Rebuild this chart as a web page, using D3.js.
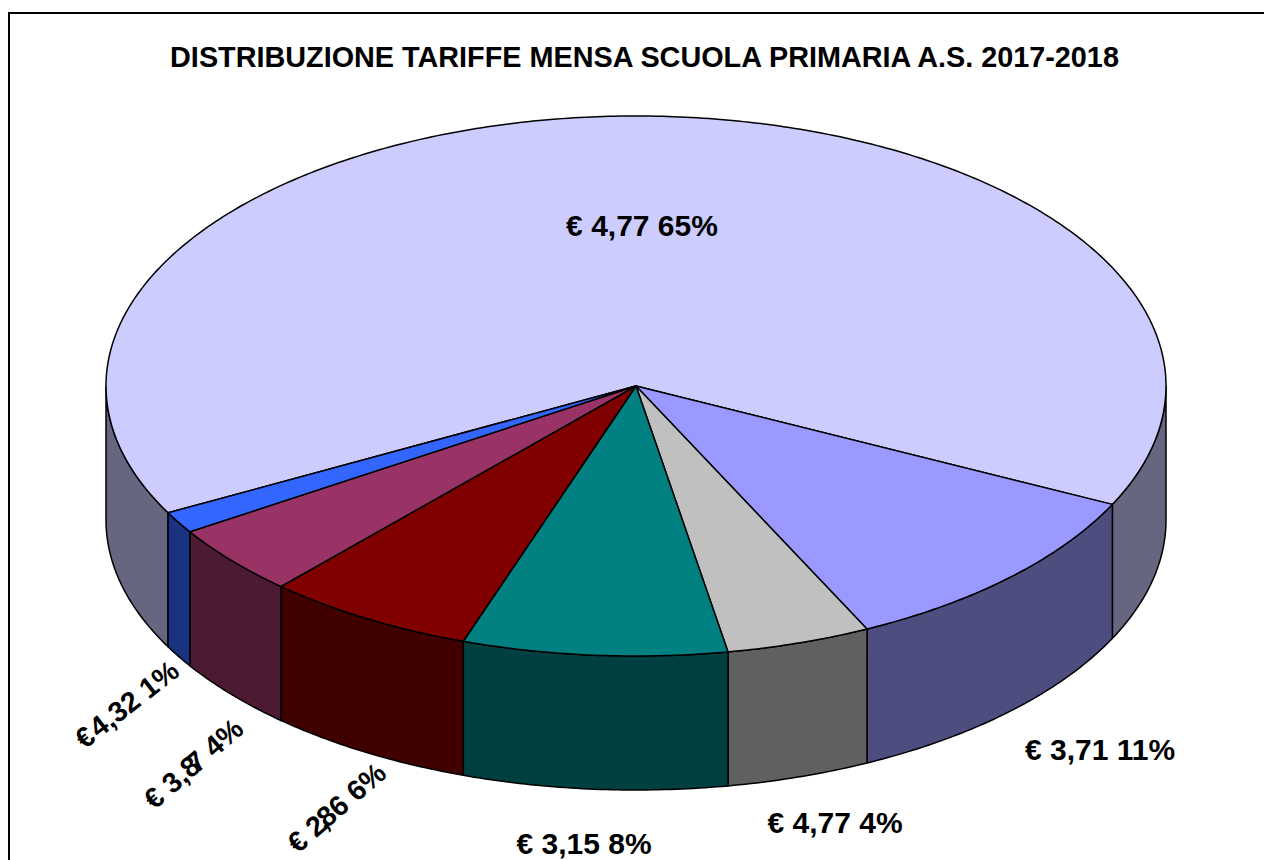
<!DOCTYPE html>
<html>
<head>
<meta charset="utf-8">
<script src="https://cdn.jsdelivr.net/npm/d3@7"></script>
<style>
  html, body { margin: 0; padding: 0; background: #fff; overflow: hidden; }
  text { font-family: "Liberation Sans", Arial, sans-serif; font-weight: bold; fill: #000; }
</style>
</head>
<body>
<svg width="1264" height="860"></svg>
<script>
'use strict';
// Values
var title = 'DISTRIBUZIONE TARIFFE MENSA SCUOLA PRIMARIA A.S. 2017-2018';
var tariffs = ['€ 4,77', '€ 3,71', '€ 4,77', '€ 3,15', '€ 2,86', '€ 3,87', '€ 4,32'];
var percentLabels = ['65%', '11%', '4%', '8%', '6%', '4%', '1%'];
var shares = [65, 10.6, 4.4, 8.06, 6.4, 4.24, 1.3];
var topColors = ['#ccccff', '#9999ff', '#c0c0c0', '#008080', '#800000', '#993366', '#3366ff'];
var sideColors = ['#666680', '#4d4d80', '#606060', '#004040', '#400000', '#4d1a33', '#1a3380'];

// Setting up the chart area
var svg = d3.select('svg'),
  depth = 134,
  startAngle = 242 * Math.PI / 180,
  xScale = d3.scaleLinear().domain([-1, 1]).range([106, 1166]),
  yScale = d3.scaleLinear().domain([-1, 1]).range([116, 656]);

// label placement: centre, rotation and size, same order as the slices
var labelLayout = [
  { x: 642, y: 236, rotate: 0, size: 30 },
  { x: 1100, y: 760, rotate: 0, size: 30 },
  { x: 835, y: 833, rotate: 0, size: 30 },
  { x: 584, y: 854, rotate: 0, size: 30 },
  { x: 343, y: 815, rotate: -41, size: 28.5, dx: '0 0 0 -4 -5 0 0 0 0' },
  { x: 200, y: 771, rotate: -41, size: 28.5, dx: '0 0 0 0 0 -8 0 0 0' },
  { x: 133, y: 712, rotate: -38, size: 28.5, dx: '0 -6 0 0 0 0 0 0' }
];

var pie = d3.pie().sort(null)
  .startAngle(startAngle)
  .endAngle(startAngle + 2 * Math.PI);
var arcs = pie(shares);

function ellipsePoint(a, drop) {
  return [xScale(Math.sin(a)), yScale(-Math.cos(a)) + (drop || 0)];
}

function arcPoints(a0, a1, drop) {
  var n = Math.max(2, Math.ceil((a1 - a0) * 90));
  return d3.range(n + 1).map(function(i) {
    return ellipsePoint(a0 + (a1 - a0) * i / n, drop);
  });
}

var line = d3.line();

// Walls: only the part of each slice that faces the viewer (90 to 270 degrees)
function wallRanges(d) {
  var ranges = [];
  [[Math.PI / 2, 3 * Math.PI / 2], [Math.PI / 2 + 2 * Math.PI, 3 * Math.PI / 2 + 2 * Math.PI]].forEach(function(v) {
    var a0 = Math.max(d.startAngle, v[0]), a1 = Math.min(d.endAngle, v[1]);
    if (a1 > a0) ranges.push([a0, a1]);
  });
  return ranges;
}

svg.append('rect')
  .attr('x', 9).attr('y', 13)
  .attr('width', 1300).attr('height', 900)
  .attr('fill', '#fff').attr('stroke', '#000').attr('stroke-width', 2);

var walls = [];
arcs.forEach(function(d, i) {
  wallRanges(d).forEach(function(r) {
    walls.push({ a0: r[0], a1: r[1], color: sideColors[i] });
  });
});

svg.append('g').selectAll('path')
  .data(walls)
  .enter().append('path')
  .attr('d', function(w) {
    return line(arcPoints(w.a0, w.a1, 0).concat(arcPoints(w.a0, w.a1, depth).reverse())) + 'Z';
  })
  .attr('fill', function(w) { return w.color; })
  .attr('stroke', '#000')
  .attr('stroke-width', 1.5)
  .attr('stroke-linejoin', 'round');

svg.append('g').selectAll('path')
  .data(arcs)
  .enter().append('path')
  .attr('d', function(d) {
    return line([[xScale(0), yScale(0)]].concat(arcPoints(d.startAngle, d.endAngle, 0))) + 'Z';
  })
  .attr('fill', function(d, i) { return topColors[i]; })
  .attr('stroke', '#000')
  .attr('stroke-width', 1.5)
  .attr('stroke-linejoin', 'round');

svg.append('text')
  .attr('x', 644.5).attr('y', 67)
  .attr('text-anchor', 'middle')
  .style('font-size', '28.8px')
  .text(title);

svg.append('g').selectAll('text')
  .data(tariffs)
  .enter().append('text')
  .attr('text-anchor', 'middle')
  .attr('transform', function(d, i) {
    var p = labelLayout[i];
    return 'translate(' + p.x + ',' + p.y + ') rotate(' + p.rotate + ')';
  })
  .attr('dx', function(d, i) { return labelLayout[i].dx || null; })
  .style('font-size', function(d, i) { return labelLayout[i].size + 'px'; })
  .text(function(d, i) { return d + ' ' + percentLabels[i]; });
</script>
</body>
</html>
